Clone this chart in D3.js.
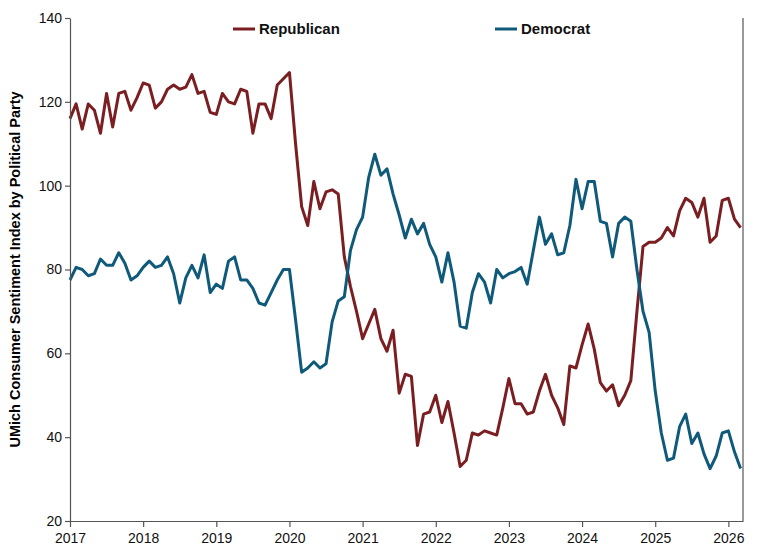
<!DOCTYPE html>
<html><head><meta charset="utf-8">
<script src="https://cdn.jsdelivr.net/npm/d3@7"></script>
<style>body{margin:0;background:#fff}text{font-family:"Liberation Sans",Arial,sans-serif}</style>
</head><body><svg id="c" width="767" height="557"></svg>
<script>
const startYear = 2017;
const yearTicks = [2017,2018,2019,2020,2021,2022,2023,2024,2025,2026];
const valueTicks = [20,40,60,80,100,120,140];
const republican = [
116,119.5,113.5,119.5,118,112.5,122,114,122,122.5,118,121,
124.5,124,118.5,120,123,124,123,123.5,126.5,122,122.5,117.5,
117,122,120,119.5,123,122.5,112.5,119.5,119.5,116,124,125.5,
127,110,95,90.5,101,94.5,98.5,99,98,83,76,70,
63.5,67,70.5,63.5,60.5,65.5,50.5,55,54.5,38,45.5,46,
50,43.5,48.5,41,33,34.5,41,40.5,41.5,41,40.5,47,
54,48,48,45.5,46,51,55,50,47,43,57,56.5,
62,67,61,53,51,52.5,47.5,50,53.5,70,85.5,86.5,
86.5,87.5,90,88,94,97,96,92.5,97,86.5,88,96.5,
97,92,90];
const democrat = [
77.5,80.5,80,78.5,79,82.5,81,81,84,81.5,77.5,78.5,
80.5,82,80.5,81,83,79,72,78,81,78,83.5,74.5,
76.5,75.5,82,83,77.5,77.5,75.5,72,71.5,74.5,77.5,80,
80,68,55.5,56.5,58,56.5,57.5,67.5,72.5,73.5,84.5,89.5,
92.5,102,107.5,102.5,104,98,93,87.5,92,88.5,91,86,
83,77,84,77,66.5,66,74.5,79,77,72,80,78,
79,79.5,80.5,76.5,84.5,92.5,86,88.5,83.5,84,90.5,101.5,
94.5,101,101,91.5,91,83,91,92.5,91.5,80,70,65,
51,41,34.5,35,42.5,45.5,38.5,41,36,32.5,35.5,41,
41.5,36.5,32.5];
const seriesNames = ["Republican","Democrat"];
const colors = ["#7b1e22","#0f5a7a"];

const svg = d3.select("#c");
const m = {l:70,r:743,t:18,b:521};
const x = d3.scaleLinear().domain([2017,2026.2]).range([m.l,m.r]);
const y = d3.scaleLinear().domain([20,140]).range([m.b,m.t]);
const line = d3.line().x((d,i)=>x(startYear+i/12)).y(d=>y(d));

[republican,democrat].forEach((s,k)=>{
  svg.append("path").datum(s).attr("d",line).attr("fill","none")
    .attr("stroke",colors[k]).attr("stroke-width",3).attr("stroke-linejoin","round");
});

svg.append("line").attr("x1",m.r).attr("x2",m.r).attr("y1",m.t).attr("y2",m.b)
  .attr("stroke","#555").attr("stroke-width",1.2);

const ax = svg.append("g").attr("transform",`translate(0,${m.b})`)
  .call(d3.axisBottom(x).tickValues(yearTicks).tickFormat(d3.format("d")).tickSize(6).tickSizeOuter(0));
const ay = svg.append("g").attr("transform",`translate(${m.l},0)`)
  .call(d3.axisLeft(y).tickValues(valueTicks).tickSize(5).tickSizeOuter(0));
[ax,ay].forEach(a=>{
  a.selectAll("path,line").attr("stroke","#555").attr("stroke-width",1.2);
  a.selectAll("text").attr("font-size",14).attr("fill","#111");
});
ax.selectAll("text").attr("dy","0.9em");

svg.append("text").attr("transform",`translate(20,${(m.t+m.b)/2}) rotate(-90)`)
  .attr("text-anchor","middle").attr("font-size",14.5).attr("font-weight","bold")
  .text("UMich Consumer Sentiment Index by Political Party");

const lg = [[233,seriesNames[0]],[495,seriesNames[1]]];
lg.forEach(([lx,name],k)=>{
  svg.append("line").attr("x1",lx).attr("x2",lx+22).attr("y1",29).attr("y2",29)
    .attr("stroke",colors[k]).attr("stroke-width",3);
  svg.append("text").attr("x",lx+26).attr("y",34).attr("font-size",15)
    .attr("font-weight","bold").attr("fill","#111").text(name);
});
</script></body></html>
